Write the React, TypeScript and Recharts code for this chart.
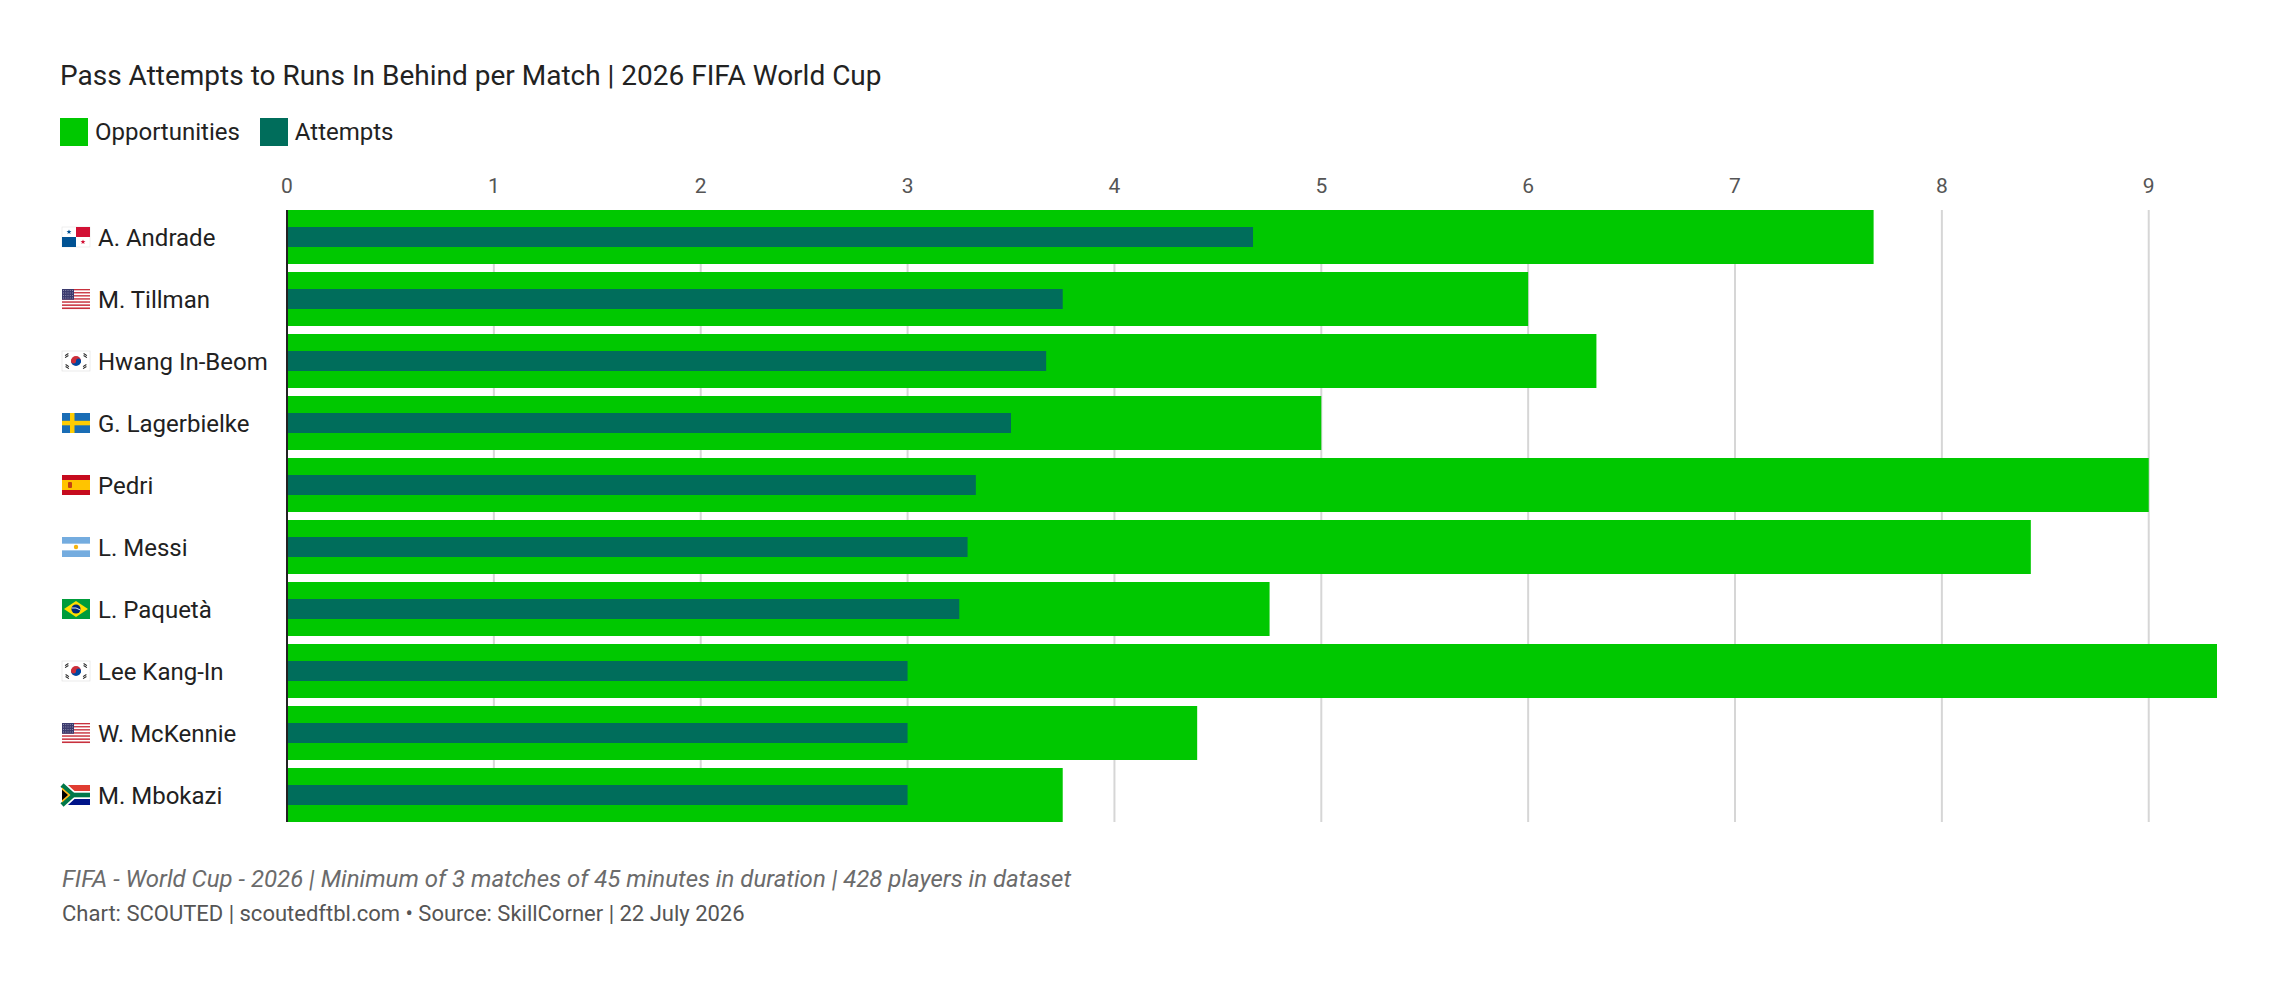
import React from 'react';
import { BarChart, Bar, XAxis, YAxis, CartesianGrid } from 'recharts';

const players = ['A. Andrade', 'M. Tillman', 'Hwang In-Beom', 'G. Lagerbielke', 'Pedri', 'L. Messi', 'L. Paquetà', 'Lee Kang-In', 'W. McKennie', 'M. Mbokazi'];
const countries = ['PA', 'US', 'KR', 'SE', 'ES', 'AR', 'BR', 'KR', 'US', 'ZA'];
const opportunities = [7.67, 6.0, 6.33, 5.0, 9.0, 8.43, 4.75, 9.33, 4.4, 3.75];
const attempts = [4.67, 3.75, 3.67, 3.5, 3.33, 3.29, 3.25, 3.0, 3.0, 3.0];
const xTicks = [0, 1, 2, 3, 4, 5, 6, 7, 8, 9];

const seriesNames = ['Opportunities', 'Attempts'];
const seriesColors = ['#00c800', '#006d5b'];

const title = 'Pass Attempts to Runs In Behind per Match | 2026 FIFA World Cup';
const footnote = 'FIFA - World Cup - 2026 | Minimum of 3 matches of 45 minutes in duration | 428 players in dataset';
const credit = 'Chart: SCOUTED | scoutedftbl.com • Source: SkillCorner | 22 July 2026';

const data = players.map((name, i) => ({
  name,
  code: countries[i],
  opportunities: opportunities[i],
  attempts: attempts[i],
}));
const codeByName: Record<string, string> = {};
data.forEach((d) => (codeByName[d.name] = d.code));
const dataMax = Math.max(...opportunities, ...attempts);

const FONT = 'Roboto, "Noto Sans", sans-serif';

function star(cx: number, cy: number, r: number) {
  const pts: string[] = [];
  for (let i = 0; i < 10; i++) {
    const a = -Math.PI / 2 + (i * Math.PI) / 5;
    const rr = i % 2 === 0 ? r : r * 0.42;
    pts.push(`${cx + rr * Math.cos(a)},${cy + rr * Math.sin(a)}`);
  }
  return pts.join(' ');
}

function Flag({ code }: { code: string }) {
  const W = 28;
  const H = 20;
  switch (code) {
    case 'PA':
      return (
        <g>
          <rect width={W} height={H} fill="#fff" stroke="#e4e4e4" strokeWidth={0.6} />
          <rect x={14} y={0} width={14} height={10} fill="#d21034" />
          <rect x={0} y={10} width={14} height={10} fill="#005293" />
          <polygon points={star(7, 5, 2.6)} fill="#005293" />
          <polygon points={star(21, 15, 2.6)} fill="#d21034" />
        </g>
      );
    case 'US': {
      const stripes = [];
      for (let i = 0; i < 13; i++) {
        stripes.push(
          <rect key={i} x={0} y={(i * H) / 13} width={W} height={H / 13 + 0.05} fill={i % 2 === 0 ? '#c8313e' : '#fff'} />
        );
      }
      const dots = [];
      for (let r = 0; r < 4; r++) {
        for (let c = 0; c < 5; c++) {
          dots.push(<circle key={`${r}-${c}`} cx={1.6 + c * 2.2} cy={1.4 + r * 2.5} r={0.45} fill="#fff" />);
        }
      }
      return (
        <g>
          {stripes}
          <rect x={0} y={0} width={12} height={(7 * H) / 13} fill="#3c3b6e" />
          {dots}
        </g>
      );
    }
    case 'KR':
      return (
        <g>
          <rect width={W} height={H} fill="#fff" stroke="#dcdcdc" strokeWidth={0.6} />
          <path d="M9 10 A5 5 0 0 1 19 10 Z" fill="#cd2e3a" />
          <path d="M9 10 A5 5 0 0 0 19 10 Z" fill="#0047a0" />
          <circle cx={11.5} cy={10} r={2.5} fill="#cd2e3a" />
          <circle cx={16.5} cy={10} r={2.5} fill="#0047a0" />
          <g fill="#222">
            <rect x={3} y={3} width={4} height={1} transform="rotate(-34 5 4)" />
            <rect x={3} y={5} width={4} height={1} transform="rotate(-34 5 6)" />
            <rect x={21} y={3} width={4} height={1} transform="rotate(34 23 4)" />
            <rect x={21} y={5} width={4} height={1} transform="rotate(34 23 6)" />
            <rect x={3} y={14} width={4} height={1} transform="rotate(34 5 15)" />
            <rect x={3} y={16} width={4} height={1} transform="rotate(34 5 17)" />
            <rect x={21} y={14} width={4} height={1} transform="rotate(-34 23 15)" />
            <rect x={21} y={16} width={4} height={1} transform="rotate(-34 23 17)" />
          </g>
        </g>
      );
    case 'SE':
      return (
        <g>
          <rect width={W} height={H} fill="#1a6db5" />
          <rect x={8} y={0} width={4.5} height={H} fill="#fecc02" />
          <rect x={0} y={7.8} width={W} height={4.5} fill="#fecc02" />
        </g>
      );
    case 'ES':
      return (
        <g>
          <rect width={W} height={H} fill="#c60b1e" />
          <rect x={0} y={5} width={W} height={10} fill="#ffc400" />
          <rect x={6} y={7} width={4} height={6} rx={1} fill="#ad1519" opacity={0.75} />
        </g>
      );
    case 'AR':
      return (
        <g>
          <rect width={W} height={H} fill="#74acdf" />
          <rect x={0} y={6.67} width={W} height={6.67} fill="#fff" />
          <circle cx={14} cy={10} r={2.2} fill="#f6b40e" />
        </g>
      );
    case 'BR':
      return (
        <g>
          <rect width={W} height={H} fill="#009c3b" />
          <polygon points="14,2 26,10 14,18 2,10" fill="#ffdf00" />
          <circle cx={14} cy={10} r={4.6} fill="#002776" />
          <path d="M9.6 9 Q14 8 18.4 11" stroke="#fff" strokeWidth={0.9} fill="none" />
        </g>
      );
    case 'ZA':
      return (
        <g>
          <rect width={W} height={H / 2} fill="#e03c31" />
          <rect y={H / 2} width={W} height={H / 2} fill="#001489" />
          <polyline points="0,0 11,10 0,20" fill="none" stroke="#fff" strokeWidth={8} />
          <line x1={11} y1={10} x2={W} y2={10} stroke="#fff" strokeWidth={8} />
          <polyline points="0,0 11,10 0,20" fill="none" stroke="#007749" strokeWidth={4.6} />
          <line x1={11} y1={10} x2={W} y2={10} stroke="#007749" strokeWidth={4.6} />
          <polygon points="0,2.5 8.5,10 0,17.5" fill="#ffb81c" />
          <polygon points="0,4.8 6,10 0,15.2" fill="#000" />
        </g>
      );
    default:
      return null;
  }
}

const LABEL_LEFT = 62;

function CategoryTick(props: any) {
  const { y, payload } = props;
  const name = payload.value as string;
  return (
    <g>
      <g transform={`translate(${LABEL_LEFT}, ${y - 10})`}>
        <Flag code={codeByName[name]} />
      </g>
      <text x={LABEL_LEFT + 36} y={y} dy={8.5} fontSize={24} fill="#212121" fontFamily={FONT} textAnchor="start">
        {name}
      </text>
    </g>
  );
}

function ValueTick(props: any) {
  const { x, y, payload } = props;
  return (
    <text x={x} y={y} dy={-17.5} fontSize={21} fill="#555" fontFamily={FONT} textAnchor="middle">
      {payload.value}
    </text>
  );
}

const gridGenerator = (props: any) => {
  const offset = props?.offset;
  if (!offset) return [];
  return xTicks.filter((t) => t > 0).map((t) => offset.left + (t / dataMax) * offset.width);
};

export default function App() {
  return (
    <div
      style={{
        position: 'absolute',
        left: 0,
        top: 0,
        width: 2280,
        height: 988,
        background: '#fff',
        fontFamily: FONT,
        overflow: 'hidden',
      }}
    >
      <div style={{ position: 'absolute', left: 60, top: 61.5, fontSize: 28, lineHeight: 1, color: '#222', whiteSpace: 'nowrap' }}>
        {title}
      </div>
      <div style={{ position: 'absolute', left: 60, top: 118, height: 28, display: 'flex', alignItems: 'center' }}>
        {seriesNames.map((s, i) => (
          <div key={s} style={{ display: 'flex', alignItems: 'center', marginRight: 20 }}>
            <div style={{ width: 28, height: 28, background: seriesColors[i], marginRight: 7 }} />
            <span style={{ fontSize: 24, lineHeight: 1, color: '#222', whiteSpace: 'nowrap' }}>{s}</span>
          </div>
        ))}
      </div>
      <div style={{ position: 'absolute', top: 0, left: 0 }}>
        <BarChart
          width={2280}
          height={988}
          data={data}
          layout="vertical"
          margin={{ top: 170, right: 63, bottom: 166, left: 0 }}
        >
          <CartesianGrid
            yAxisId="opp"
            horizontal={false}
            vertical
            stroke="#d6d6d6"
            strokeWidth={2}
            verticalCoordinatesGenerator={gridGenerator}
          />
          <XAxis
            type="number"
            orientation="top"
            domain={[0, 'dataMax']}
            ticks={xTicks}
            axisLine={false}
            tickLine={false}
            tickSize={0}
            tickMargin={0}
            height={40}
            tick={<ValueTick />}
            interval={0}
          />
          <YAxis
            yAxisId="opp"
            type="category"
            dataKey="name"
            width={287}
            axisLine={{ stroke: '#222', strokeWidth: 2 }}
            tickLine={false}
            tick={<CategoryTick />}
            interval={0}
            padding={{ top: -4, bottom: -4 }}
          />
          <YAxis yAxisId="att" type="category" dataKey="name" hide width={0} padding={{ top: -4, bottom: -4 }} />
          <Bar yAxisId="opp" dataKey="opportunities" name="Opportunities" fill={seriesColors[0]} barSize={54} isAnimationActive={false} />
          <Bar yAxisId="att" dataKey="attempts" name="Attempts" fill={seriesColors[1]} barSize={20} isAnimationActive={false} />
        </BarChart>
      </div>
      <div style={{ position: 'absolute', left: 62, top: 866.5, fontSize: 24, lineHeight: 1, color: '#6b6b6b', fontStyle: 'italic', whiteSpace: 'nowrap' }}>
        {footnote}
      </div>
      <div style={{ position: 'absolute', left: 62, top: 903, fontSize: 22, lineHeight: 1, color: '#555', whiteSpace: 'nowrap' }}>
        {credit}
      </div>
    </div>
  );
}
